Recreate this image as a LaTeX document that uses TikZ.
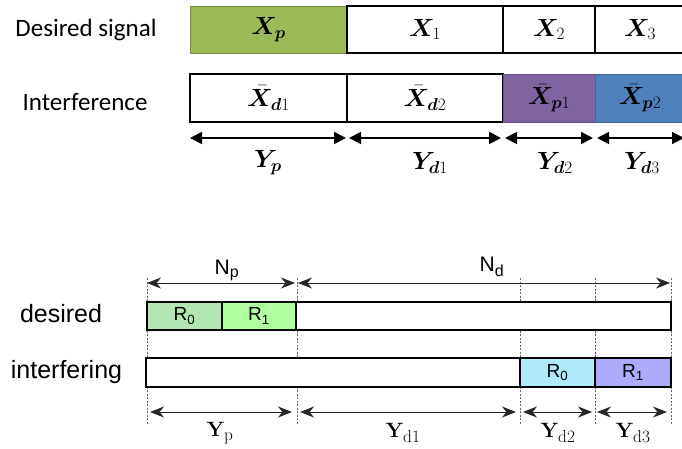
\documentclass[tikz,border=0pt]{standalone}
\usepackage{amsmath,bm}
\usepackage[no-math]{fontspec}
\setmainfont{Carlito}
\newfontfamily\arialf{Liberation Sans}
\usetikzlibrary{arrows.meta}
\DeclareMathSizes{23}{23}{18}{14}
\DeclareMathSizes{21}{21}{16}{12}
\definecolor{xgreen}{HTML}{9BBB59}
\definecolor{xpurple}{HTML}{8064A2}
\definecolor{xblue}{HTML}{4F81BD}
\definecolor{rgreenA}{RGB}{178,230,178}
\definecolor{rgreenB}{RGB}{176,255,158}
\definecolor{rcyan}{RGB}{174,234,250}
\definecolor{rviolet}{RGB}{172,172,250}
\tikzset{
  topbox/.style={draw=black, line width=1.6pt, inner sep=0pt, outer sep=0pt,
    font=\fontsize{23}{26}\selectfont},
  rowlabel/.style={font=\fontsize{25}{28}\selectfont, inner sep=0pt},
  toparrow/.style={line width=1.8pt, {Triangle[length=12pt,width=12pt]}-{Triangle[length=12pt,width=12pt]}},
  toplabel/.style={font=\fontsize{23}{26}\selectfont, inner sep=0pt},
  rbox/.style={draw=black, line width=1.2pt, inner sep=0pt, outer sep=0pt,
    font=\arialf\fontsize{19}{21}\selectfont},
  wbox/.style={draw=black, line width=2.4pt, fill=white, inner sep=0pt, outer sep=0pt},
  guide/.style={draw=black!60, line width=0.5pt, dash pattern=on 2pt off 1.5pt},
  botarrow/.style={draw=black!85, line width=1pt, {Stealth[length=14pt,width=11pt,inset=4.5pt]}-{Stealth[length=14pt,width=11pt,inset=4.5pt]}},
  blabel/.style={font=\arialf\fontsize{25}{28}\selectfont, inner sep=0pt},
  nlabel/.style={font=\arialf\fontsize{21}{24}\selectfont, inner sep=0pt},
  ylabel/.style={font=\fontsize{21}{24}\selectfont, inner sep=0pt}
}
\begin{document}
\begin{tikzpicture}[x=1pt,y=-1pt]
\clip (0,0) rectangle (682,448);
\fill[white] (0,0) rectangle (682,448);

% ---------- top part ----------
\node[rowlabel] (ds) at (86,30) {Desired signal};
\node[rowlabel] (itf) at (85,102) {Interference};

\node[topbox, fill=xgreen, draw=xgreen!75!black, line width=0.9pt, minimum width=157pt, minimum height=47pt] (xp) at (268.5,29.5) {$\boldsymbol{X}_{\boldsymbol{p}}$};
\node[topbox, minimum width=156pt, minimum height=47pt] (x1) at (425,29.5) {$\boldsymbol{X}_{1}$};
\node[topbox, minimum width=92pt, minimum height=47pt] (x2) at (549,29.5) {$\boldsymbol{X}_{2}$};
\node[topbox, minimum width=90pt, minimum height=47pt] (x3) at (640,29.5) {$\boldsymbol{X}_{3}$};

\node[topbox, minimum width=157pt, minimum height=48pt] (xd1) at (268.5,98) {$\bar{\boldsymbol{X}}_{\boldsymbol{d}1}$};
\node[topbox, minimum width=156pt, minimum height=48pt] (xd2) at (425,98) {$\bar{\boldsymbol{X}}_{\boldsymbol{d}2}$};
\node[topbox, fill=xpurple, draw=xpurple!80!black, line width=1pt, minimum width=92pt, minimum height=48pt] (xp1) at (549,98) {$\bar{\boldsymbol{X}}_{\boldsymbol{p}1}$};
\node[topbox, fill=xblue, draw=xblue!80!black, line width=1pt, minimum width=90pt, minimum height=48pt] (xp2) at (640,98) {$\bar{\boldsymbol{X}}_{\boldsymbol{p}2}$};

\coordinate (ta0) at (190,138);
\coordinate (ta1) at (346,138);
\coordinate (ta2) at (349,138);
\coordinate (ta3) at (501,138);
\coordinate (ta4) at (505,138);
\coordinate (ta5) at (593,138);
\coordinate (ta6) at (597,138);
\coordinate (ta7) at (684,138);
\draw[toparrow] (ta0) -- (ta1);
\draw[toparrow] (ta2) -- (ta3);
\draw[toparrow] (ta4) -- (ta5);
\draw[toparrow] (ta6) -- (ta7);

\node[toplabel] (typ) at (268,163) {$\boldsymbol{Y}_{\boldsymbol{p}}$};
\node[toplabel] (tyd1) at (430,163) {$\boldsymbol{Y}_{\boldsymbol{d}1}$};
\node[toplabel] (tyd2) at (555,163) {$\boldsymbol{Y}_{\boldsymbol{d}2}$};
\node[toplabel] (tyd3) at (642,163) {$\boldsymbol{Y}_{\boldsymbol{d}3}$};

% ---------- bottom part ----------
\foreach \n/\x in {g0/147,g1/297,g2/520,g3/595,g4/671}{
  \coordinate (\n t) at (\x,278);
  \coordinate (\n b) at (\x,425);
  \draw[guide] (\n t) -- (\n b);
}

\node[blabel] (des) at (61,314) {desired};
\node[blabel] (intf) at (66.5,372) {interfering};

\node[wbox, minimum width=375pt, minimum height=28pt] (dw) at (483.5,316) {};
\node[rbox, fill=rgreenA, minimum width=75pt, minimum height=28pt] (dr0) at (184.5,316) {R\textsubscript{0}};
\node[rbox, fill=rgreenB, minimum width=74pt, minimum height=28pt] (dr1) at (259,316) {R\textsubscript{1}};

\node[wbox, minimum width=374pt, minimum height=29pt] (iw) at (333,372.5) {};
\node[rbox, fill=rcyan, minimum width=75pt, minimum height=29pt] (ir0) at (557.5,372.5) {R\textsubscript{0}};
\node[rbox, fill=rviolet, minimum width=76pt, minimum height=29pt] (ir1) at (633,372.5) {R\textsubscript{1}};

\coordinate (na0) at (147,283);
\coordinate (na1) at (295,283);
\coordinate (na2) at (298,283);
\coordinate (na3) at (670,283);
\draw[botarrow] (na0) -- (na1);
\draw[botarrow] (na2) -- (na3);
\node[nlabel] (np) at (227,270) {N\textsubscript{p}};
\node[nlabel] (nd) at (492,267) {N\textsubscript{d}};

\coordinate (ba0) at (150,412);
\coordinate (ba1) at (292,412);
\coordinate (ba2) at (300,412);
\coordinate (ba3) at (516,412);
\coordinate (ba4) at (523,412);
\coordinate (ba5) at (592,412);
\coordinate (ba6) at (597,412);
\coordinate (ba7) at (667,412);
\draw[botarrow] (ba0) -- (ba1);
\draw[botarrow] (ba2) -- (ba3);
\draw[botarrow] (ba4) -- (ba5);
\draw[botarrow] (ba6) -- (ba7);

\node[ylabel] (byp) at (220,433) {$\mathbf{Y}_{\mathrm{p}}$};
\node[ylabel] (byd1) at (403,433) {$\mathbf{Y}_{\mathrm{d1}}$};
\node[ylabel] (byd2) at (558,433) {$\mathbf{Y}_{\mathrm{d2}}$};
\node[ylabel] (byd3) at (633,433) {$\mathbf{Y}_{\mathrm{d3}}$};
\end{tikzpicture}
\end{document}
